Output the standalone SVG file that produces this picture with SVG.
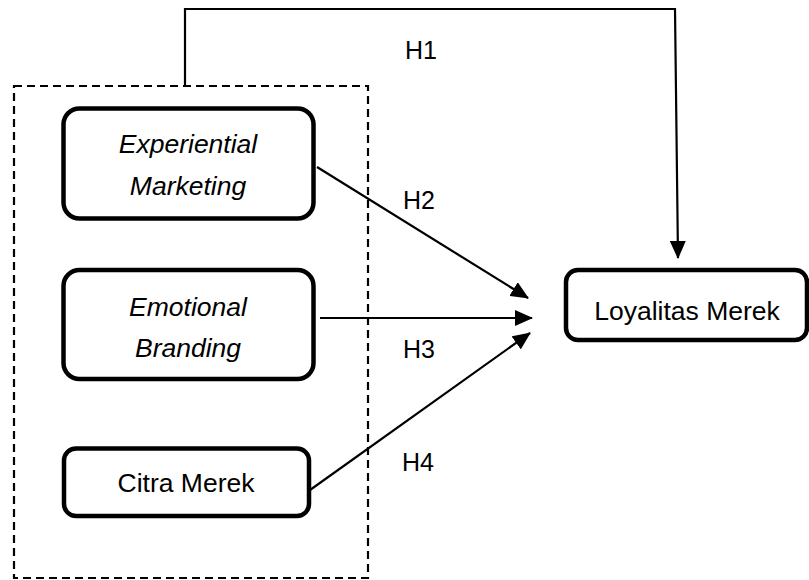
<svg xmlns="http://www.w3.org/2000/svg" width="809" height="580" viewBox="0 0 809 580">
<style>
.box{fill:#fff;stroke:#000;stroke-width:4.5}
.t{font-family:"Liberation Sans",Arial,sans-serif;font-size:26.5px;fill:#000;text-anchor:middle}
.i{font-style:italic}
.lbl{font-family:"Liberation Sans",Arial,sans-serif;font-size:25px;fill:#000}
.c{fill:none;stroke:#000;stroke-width:2.2}
</style>
<defs>
<marker id="ah" markerUnits="userSpaceOnUse" markerWidth="18" markerHeight="16" refX="17" refY="8" orient="auto">
<path d="M0,0 L18,8 L0,16 Z" fill="#000"/>
</marker>
</defs>
<rect x="14" y="86" width="354" height="492" fill="none" stroke="#000" stroke-width="2.2" stroke-dasharray="8 5"/>
<g id="connectors">
<polyline class="c" points="185,86 185,9 675,9 678,258" marker-end="url(#ah)"/>
<line class="c" x1="317" y1="167" x2="528" y2="298" marker-end="url(#ah)"/>
<line class="c" x1="320" y1="318" x2="532" y2="318" marker-end="url(#ah)"/>
<line class="c" x1="303" y1="495" x2="530" y2="333" marker-end="url(#ah)"/>
</g>
<g id="labels">
<text class="lbl" x="405" y="59">H1</text>
<text class="lbl" x="403" y="209">H2</text>
<text class="lbl" x="403" y="358">H3</text>
<text class="lbl" x="402" y="471">H4</text>
</g>
<g id="experiential">
<rect class="box" x="63.5" y="108.5" width="250" height="110" rx="16"/>
<text class="t i" x="188" y="153">Experiential</text>
<text class="t i" x="188" y="195">Marketing</text>
</g>
<g id="emotional">
<rect class="box" x="63.5" y="270" width="250" height="109" rx="16"/>
<text class="t i" x="188" y="316">Emotional</text>
<text class="t i" x="188" y="357">Branding</text>
</g>
<g id="citra">
<rect class="box" x="64" y="448.5" width="245" height="67.5" rx="12"/>
<text class="t" x="186" y="492">Citra Merek</text>
</g>
<g id="loyalitas">
<rect class="box" x="566" y="270" width="241" height="70" rx="12"/>
<text class="t" x="687" y="320">Loyalitas Merek</text>
</g>
</svg>
